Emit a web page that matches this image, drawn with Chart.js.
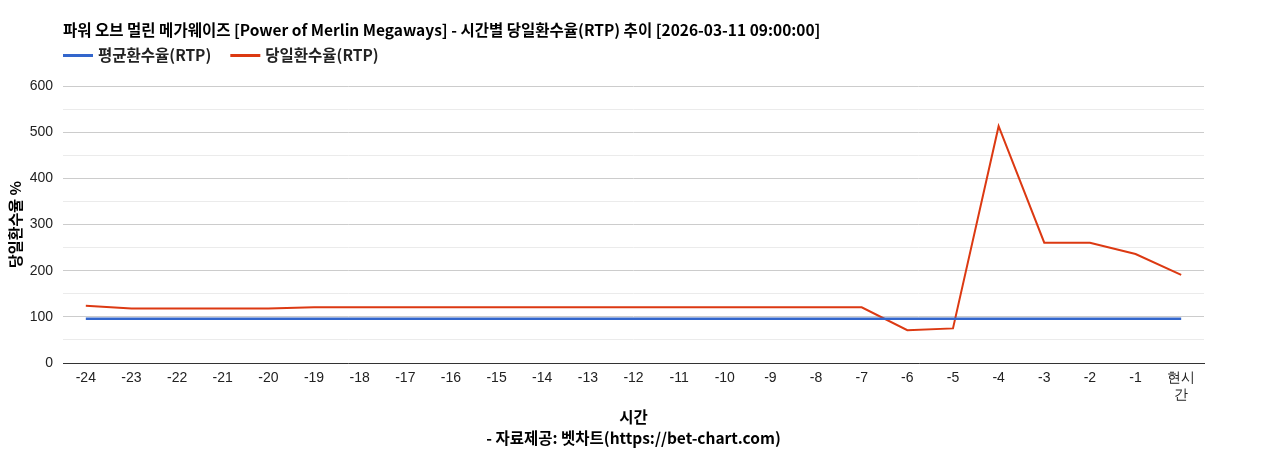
<!DOCTYPE html>
<html>
<head>
<meta charset="utf-8">
<script src="https://cdn.jsdelivr.net/npm/chart.js@4/dist/chart.umd.min.js"></script>
<style>
html,body{margin:0;padding:0;background:#fff;}
#wrap{width:1268px;height:450px;position:relative;}
</style>
</head>
<body>
<div id="wrap"><canvas id="c" width="1268" height="450"></canvas></div>
<script>
const chartTitle = "파워 오브 멀린 메가웨이즈 [Power of Merlin Megaways] - 시간별 당일환수율(RTP) 추이 [2026-03-11 09:00:00]";
const categories = [["-24"],["-23"],["-22"],["-21"],["-20"],["-19"],["-18"],["-17"],["-16"],["-15"],["-14"],["-13"],["-12"],["-11"],["-10"],["-9"],["-8"],["-7"],["-6"],["-5"],["-4"],["-3"],["-2"],["-1"],["현시","간"]];
const avgLabel = "평균환수율(RTP)";
const dayLabel = "당일환수율(RTP)";
const avgRTP = [96,96,96,96,96,96,96,96,96,96,96,96,96,96,96,96,96,96,96,96,96,96,96,96,96];
const dayRTP = [124,118,118,118,118,120.5,120.5,120.5,120.5,120.5,120.5,120.5,120.5,120.5,120.5,120.5,120.5,120.5,71,75,513,260.5,260.5,236,191];
const yTickStep = 50;
const yLabelStep = 100;
const yMax = 600;
const yTitle = "당일환수율 %";
const xTitle = ["시간", "- 자료제공: 벳차트(https://bet-chart.com)"];

const TEXT_FONT = "'Noto Sans CJK KR', 'Noto Sans', sans-serif";
const TICK_FONT = "'Liberation Sans', Arial, sans-serif";

const headerPlugin = {
  id: 'header',
  afterDraw(chart) {
    const ctx = chart.ctx;
    const left = chart.chartArea.left;
    ctx.save();
    ctx.fillStyle = '#000';
    ctx.textBaseline = 'middle';
    ctx.textAlign = 'left';
    ctx.font = "bold 15.5px " + TEXT_FONT;
    ctx.fillText(chartTitle, left, 30.5);
    ctx.font = "bold 15.5px " + TEXT_FONT;
    let x = left;
    chart.data.datasets.forEach(ds => {
      ctx.strokeStyle = ds.borderColor;
      ctx.lineWidth = 3;
      ctx.beginPath();
      ctx.moveTo(x, 55.5);
      ctx.lineTo(x + 30, 55.5);
      ctx.stroke();
      ctx.fillStyle = '#222';
      ctx.fillText(ds.label, x + 35, 55);
      x += 35 + ctx.measureText(ds.label).width + 19;
    });
    ctx.restore();
  }
};

new Chart(document.getElementById('c'), {
  type: 'line',
  data: {
    labels: categories,
    datasets: [
      { label: avgLabel, data: avgRTP, borderColor: '#3366cc', backgroundColor: '#3366cc', borderWidth: 2.5, pointRadius: 0, tension: 0 },
      { label: dayLabel, data: dayRTP, borderColor: '#dc3912', backgroundColor: '#dc3912', borderWidth: 2, pointRadius: 0, tension: 0 }
    ]
  },
  plugins: [headerPlugin],
  options: {
    responsive: false,
    animation: false,
    layout: { padding: { top: 86, right: 64, left: 0, bottom: 0 } },
    plugins: {
      legend: { display: false },
      title: { display: false },
      tooltip: { enabled: false }
    },
    scales: {
      x: {
        offset: true,
        grid: { display: false, drawTicks: false },
        border: { display: true, color: '#333', width: 1 },
        ticks: { color: '#222', font: { family: TICK_FONT, size: 14 }, padding: 7, maxRotation: 0, autoSkip: false },
        title: { display: true, text: xTitle, color: '#000', font: { family: TEXT_FONT, size: 15.5, weight: 'bold', lineHeight: '21.5px' }, padding: { top: 0, bottom: 1 } },
        afterFit(scale) { scale.height = 87; }
      },
      y: {
        min: 0, max: yMax,
        grid: { drawTicks: false, color: ctx => (ctx.tick && ctx.tick.value % yLabelStep === 0) ? '#cccccc' : '#ebebeb' },
        border: { display: false },
        ticks: { stepSize: yTickStep, padding: 10, color: '#222', font: { family: TICK_FONT, size: 14 },
          callback: v => (v % yLabelStep === 0 ? String(v) : '') },
        title: { display: true, text: yTitle, color: '#000', font: { family: TEXT_FONT, size: 15, weight: 'bold', lineHeight: 1.2 }, padding: { top: 6, bottom: 0 } },
        afterFit(scale) { scale.width = 63; }
      }
    }
  }
});
</script>
</body>
</html>
